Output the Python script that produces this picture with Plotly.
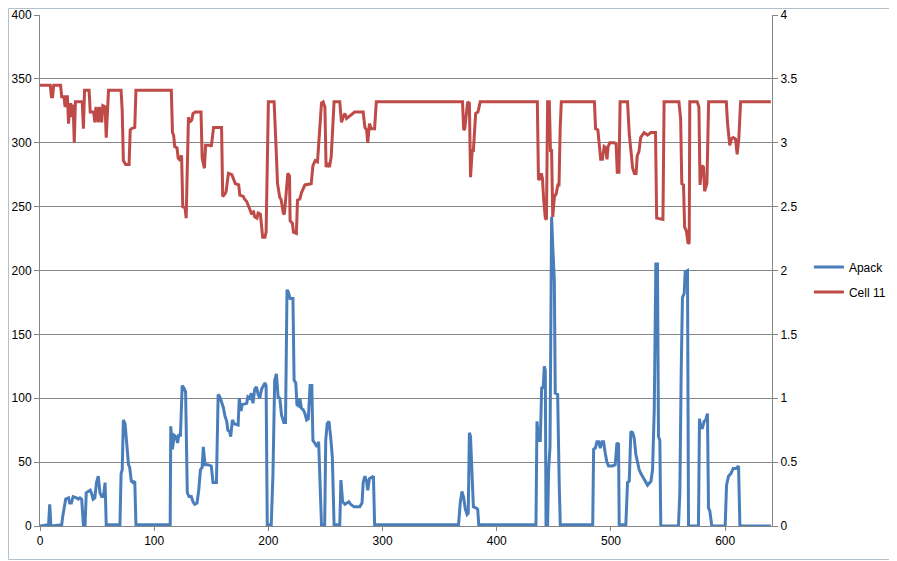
import plotly.graph_objects as go

# Apack (left axis), breakpoints
apack_x = [
    0, 7.5, 8.5, 9.5, 10.5, 19, 20, 21, 22.5, 25, 26, 27.5, 29, 32, 33.5, 35, 36.5, 38, 39.5,
    40.5, 42, 44, 45, 46.5, 48, 49.5, 51, 52.5, 54, 55.5, 57, 58, 70, 71, 72, 73, 74.5, 76,
    77.5, 78.5, 80, 81.5, 83, 84, 114, 114.5, 116, 117.5, 119, 120.5, 121.5, 123, 124.5, 126,
    127.5, 129, 130.5, 132.5, 134, 135.5, 137.5, 139, 140.5, 142, 143, 144.5, 147, 150, 151.5,
    154.5, 156, 157.5, 159, 160.5, 162, 163.5, 164.5, 166, 167, 168.5, 170, 173.5, 174.5, 176,
    177, 179.5, 181, 182, 183.5, 185, 186.5, 188, 189.5, 191, 192.5, 194, 197, 198, 199, 202.5,
    204, 205.5, 207, 208.5, 210, 211.5, 213.5, 215, 216.3, 217.5, 219, 221.5, 222.5, 224, 225,
    226.5, 227.5, 229, 230.5, 232, 233.5, 235, 236.5, 238, 239, 240.5, 242.5, 244, 245, 246.5,
    249.3, 250.2, 251.5, 253, 254.5, 256, 257.5, 262.5, 263.5, 265, 267, 268.5, 270.5, 272, 275,
    280, 282, 283, 284.5, 286, 287, 288.5, 292, 293, 366.5, 368, 369.5, 371, 372.5, 374, 375,
    376, 377, 378.3, 379.5, 382, 383.3, 384.2, 434.3, 435.2, 436.6, 438.1, 439.3, 440.7, 441.6,
    442.5, 443.1, 444.5, 445.4, 446.6, 447.5, 448, 448.9, 450.4, 451.2, 453.3, 454.7, 455.6, 484,
    484.8, 486.3, 487.7, 489.2, 490.6, 492.1, 493.5, 495, 496.4, 497.9, 501.4, 503.7, 505.2,
    506.6, 507.2, 513, 514.5, 516, 517.4, 518.9, 520.3, 521.8, 523.2, 524.7, 526.2, 529.1, 532,
    535, 536.4, 537.9, 539.3, 540.7, 541.6, 542.8, 543.6, 559.1, 560.3, 561.5, 562.6, 564.1, 565,
    567, 567.9, 576.6, 577.5, 578.7, 580.1, 581.6, 583, 584.5, 585.4, 586.5, 588.3, 600, 601.2,
    602.9, 605, 607, 609.4, 611.7, 612.9, 640,
]
apack_y = [
    0, 1, 17, 1, 0, 1, 8, 15, 21, 22, 18, 18, 23, 22, 21, 22, 21, 1, 1,
    26, 27, 28, 26, 21, 22, 34, 39, 26, 23, 23, 34, 1, 1, 41, 44, 83, 80, 65,
    48, 46, 35, 34, 35, 1, 1, 78, 60, 71, 70, 65, 71, 71, 110, 108,
    105, 26, 23, 23, 19, 17, 18, 28, 44, 46, 62, 48, 48, 47, 34,
    34, 103, 101, 97, 93, 86, 82, 75, 74, 70, 83, 80, 79, 100, 90,
    95, 96, 96, 101, 100, 104, 96, 107, 109, 103, 100, 107, 112, 110, 1, 1,
    41, 114, 119, 101, 100, 87, 81, 81, 185, 183, 178, 178, 114, 112, 95,
    94, 100, 92, 91, 88, 83, 84, 110, 110, 67, 65, 62, 66, 38, 1,
    1, 67, 80, 82, 70, 54, 1, 1, 36, 19, 17, 18, 19, 17, 15,
    15, 18, 34, 39, 35, 28, 37, 39, 1, 1, 18, 27, 22, 13, 9, 10,
    73, 70, 41, 15, 14, 13, 1, 1, 82, 67, 67, 108, 109, 125,
    122, 0, 0, 44, 62, 148, 242, 221, 192, 104, 103, 32, 1, 1,
    60, 61, 66, 66, 61, 66, 66, 57, 50, 47, 47, 48, 65,
    64, 1, 1, 34, 35, 74, 73, 69, 56, 50, 44, 41, 37, 32,
    35, 44, 91, 205, 205, 70, 67, 0, 0, 26, 122, 179, 182, 199,
    200, 0, 0, 84, 77, 77, 82, 83, 88, 14, 12, 0, 0, 32,
    39, 41, 45, 45, 47, 0, 0,
]

# Cell 11 (right axis, volts)
cell_x = [
    0, 9, 10, 11, 12, 18, 19, 21, 22, 23, 24, 25, 26, 27, 28, 29, 30, 31, 37, 38, 39, 43, 44,
    47, 48, 49, 51, 52, 54, 55, 57, 58, 60, 71, 72, 73, 75, 78, 79, 80, 83, 84, 115, 116, 117,
    118, 120, 121, 122, 124, 125, 127, 128, 130, 131, 133, 134, 136, 141, 142, 144, 145, 149,
    150, 152, 159, 160, 162, 163, 165, 168, 169, 171, 174, 175, 178, 179, 181, 182, 184, 185,
    187, 188, 190, 191, 193, 194, 195, 197, 198, 200, 205, 206.5, 208, 210, 211, 212, 213, 214,
    215.5, 217, 218.5, 219, 221, 222, 224.5, 225.5, 227.5, 229, 232, 237.5, 239, 241, 243,
    244.5, 246.5, 248, 249.5, 250.5, 252, 253.5, 255, 256, 257.5, 262.5, 264, 265.5, 267,
    268.5, 270, 275.5, 283, 284.5, 286, 287, 288.5, 290, 293, 294.5, 370, 371, 372, 374.5, 376,
    377, 378.5, 379.5, 381.5, 383.5, 385.5, 435.5, 436.5, 438, 439, 440, 441, 442.5, 443.5,
    444.5, 446, 447, 448, 449, 450.5, 452, 453.5, 454.5, 455.5, 456.5, 485.5, 486.5, 488.5,
    489.5, 491, 492.5, 494, 495.5, 496.5, 497.5, 499, 503, 504.5, 505.5, 507, 508, 514.5, 516,
    519, 520.5, 522, 523, 524.5, 526, 529, 532, 535, 539, 540, 545.5, 546.5, 559.5, 561, 562,
    563.5, 564.5, 566, 567.5, 568.5, 569, 575.5, 577, 578, 579.5, 581, 582, 584, 585.5, 601,
    602, 604, 605.5, 607, 609, 610.5, 612, 613.5, 640,
]
cell_v = [
    3.45, 3.45, 3.36, 3.36, 3.45, 3.45, 3.36, 3.36, 3.28, 3.36, 3.36, 3.15, 3.30, 3.30, 3.20,
    3.30, 3.00, 3.32, 3.32, 3.11, 3.41, 3.41, 3.24, 3.24, 3.16, 3.28, 3.16, 3.28, 3.16, 3.29,
    3.28, 3.04, 3.41, 3.41, 3.25, 2.86, 2.83, 2.83, 3.10, 3.11, 3.12, 3.41, 3.41, 3.08, 3.06,
    2.97, 2.96, 2.88, 2.87, 2.90, 2.50, 2.49, 2.41, 3.20, 3.16, 3.18, 3.23, 3.24, 3.24, 2.88,
    2.80, 2.98, 2.98, 2.97, 3.12, 3.12, 2.58, 2.60, 2.62, 2.76, 2.75, 2.72, 2.68, 2.67, 2.59,
    2.58, 2.56, 2.54, 2.52, 2.47, 2.45, 2.46, 2.42, 2.41, 2.45, 2.44, 2.35, 2.26, 2.26, 2.30,
    3.32, 3.32, 3.01, 2.68, 2.57, 2.56, 2.51, 2.45, 2.44, 2.62, 2.76, 2.74, 2.39, 2.37, 2.30,
    2.29, 2.55, 2.56, 2.61, 2.67, 2.68, 2.82, 2.86, 2.85, 3.08, 3.31, 3.32, 3.28, 2.81, 2.84,
    2.81, 2.89, 3.06, 3.32, 3.32, 3.16, 3.20, 3.23, 3.19, 3.20, 3.24, 3.24, 3.12, 3.10, 3.00,
    3.15, 3.11, 3.11, 3.32, 3.32, 3.10, 3.11, 3.32, 3.31, 2.73, 2.94, 2.94, 3.23, 3.24, 3.32,
    3.32, 2.71, 2.72, 2.76, 2.72, 2.56, 2.41, 2.40, 3.32, 3.32, 2.94, 2.94, 2.42, 2.58, 2.60,
    2.67, 2.67, 3.11, 3.32, 3.32, 3.11, 3.10, 3.00, 2.87, 2.87, 2.97, 2.96, 2.87, 2.97, 3.00,
    3.00, 2.99, 2.77, 2.77, 3.32, 3.32, 3.07, 2.80, 2.76, 2.76, 2.90, 2.93, 3.04, 3.08, 3.06,
    3.08, 3.08, 2.41, 2.40, 3.32, 3.32, 3.19, 2.68, 2.67, 2.34, 2.31, 2.21, 2.22, 3.32, 3.32,
    3.28, 2.67, 2.82, 2.81, 2.62, 2.68, 3.32, 3.32, 3.16, 2.98, 3.03, 3.04, 3.03, 2.91, 3.04,
    3.32, 3.32,
]

left_ticks = [0, 50, 100, 150, 200, 250, 300, 350, 400]
right_ticks = [0, 0.5, 1, 1.5, 2, 2.5, 3, 3.5, 4]
x_ticks = [0, 100, 200, 300, 400, 500, 600]

BLUE = "#4a7ebb"
RED = "#be4b48"
AXIS = "#868686"
FONT = dict(family="Liberation Sans, Arial, sans-serif", size=12, color="#000000")

fig = go.Figure()
fig.add_trace(go.Scatter(
    x=apack_x, y=apack_y, name="Apack", mode="lines",
    line=dict(color=BLUE, width=3), legendgroup="a",
))
fig.add_trace(go.Scatter(
    x=cell_x, y=cell_v, name="Cell 11", mode="lines", yaxis="y2",
    line=dict(color=RED, width=3), legendgroup="b",
))

# the page body adds an 8px offset, so the figure is sized 8px smaller
fig.update_layout(
    width=889,
    height=553,
    margin=dict(l=32, r=124, t=7, b=35),
    paper_bgcolor="white",
    plot_bgcolor="white",
    font=FONT,
    showlegend=True,
    legend=dict(x=1.049, y=0.535, xanchor="left", yanchor="top",
                tracegroupgap=6, font=FONT, bgcolor="rgba(0,0,0,0)"),
    xaxis=dict(
        range=[0, 641], tickvals=x_ticks, showgrid=False, zeroline=False,
        showline=True, linecolor=AXIS, linewidth=1, automargin=False,
        ticks="outside", ticklen=4, tickcolor=AXIS,
    ),
    yaxis=dict(
        range=[0, 400], tickvals=left_ticks, showgrid=True, gridcolor=AXIS,
        gridwidth=1, zeroline=False, showline=True, linecolor=AXIS, automargin=False,
        ticks="outside", ticklen=5, tickcolor=AXIS,
    ),
    yaxis2=dict(
        range=[0, 4], tickvals=right_ticks, overlaying="y", side="right",
        showgrid=False, zeroline=False, showline=True, linecolor=AXIS, automargin=False,
        ticks="outside", ticklen=5, tickcolor=AXIS,
    ),
    shapes=[dict(
        type="rect", xref="paper", yref="paper",
        x0=-0.0430, x1=1.1671, y0=-0.0656, y1=1.0127,
        line=dict(color="#b3bfcc", width=1), fillcolor="rgba(0,0,0,0)", layer="below",
    )],
)

fig.write_html("out.html")
